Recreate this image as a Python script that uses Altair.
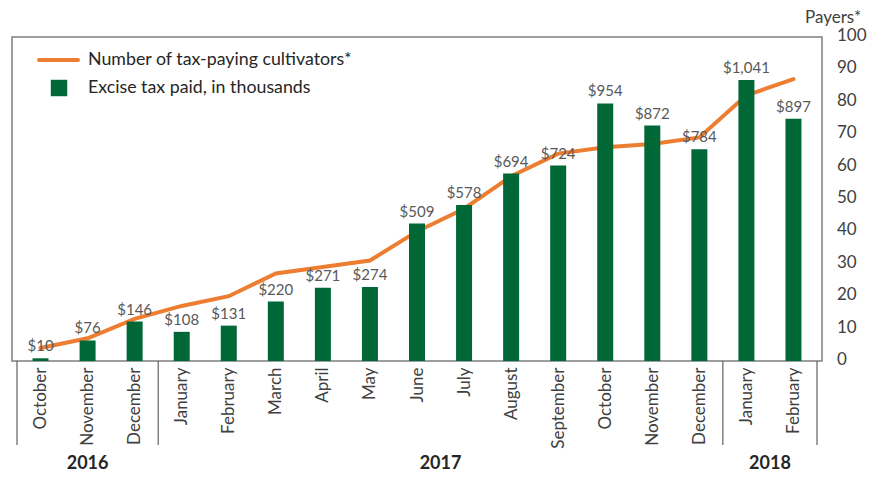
import json
import altair as alt
import pandas as pd

months = ["October", "November", "December", "January", "February", "March",
          "April", "May", "June", "July", "August", "September", "October",
          "November", "December", "January", "February"]
years = [2016, 2016, 2016, 2017, 2017, 2017, 2017, 2017, 2017, 2017, 2017,
         2017, 2017, 2017, 2017, 2018, 2018]
tax_paid = [10, 76, 146, 108, 131, 220, 271, 274, 509, 578, 694, 724, 954,
            872, 784, 1041, 897]
payers = [4, 7, 13, 17, 20, 27, 29, 31, 40, 47, 57, 64, 66, 67, 69, 82, 87]
payer_ticks = [0, 10, 20, 30, 40, 50, 60, 70, 80, 90, 100]
legend_line = "Number of tax-paying cultivators*"
legend_bar = "Excise tax paid, in thousands"
right_title = "Payers*"

W, H = 810, 324
FONT = "Lato"
ORANGE = "#ED7D31"
GREEN = "#006837"
AXIS_GRAY = "#404040"

n = len(months)
df = pd.DataFrame({
    "idx": list(range(n)),
    "month": months,
    "year": years,
    "tax": tax_paid,
    "payers": payers,
    "label": ["$" + f"{v:,}" for v in tax_paid],
})

# year groups: centers and boundaries
yr_rows = []
bounds = [-0.5]
for i, y in enumerate(years):
    if i > 0 and years[i - 1] != y:
        bounds.append(i - 0.5)
bounds.append(n - 0.5)
for y in sorted(set(years)):
    ids = [i for i, v in enumerate(years) if v == y]
    yr_rows.append({"year": str(y), "center": (ids[0] + ids[-1]) / 2})
yr_df = pd.DataFrame(yr_rows)
sep_df = pd.DataFrame({"pos": bounds})
tick_df = pd.DataFrame({"v": payer_ticks, "t": [str(v) for v in payer_ticks]})

xscale = alt.Scale(domain=[-0.5, n - 0.5], nice=False, zero=False)
pscale = alt.Scale(domain=[0, 100], nice=False)
label_expr = json.dumps(months) + "[datum.value]"

x_ax = alt.Axis(values=list(range(n)), labelExpr=label_expr, labelAngle=-90,
                labelAlign="right", labelBaseline="middle",
                ticks=False, grid=False, domain=False, title=None,
                labelFontSize=17, labelFont=FONT, labelColor=AXIS_GRAY,
                labelPadding=6, labelOverlap=False)


def xenc(field):
    return alt.X(field + ":Q", scale=xscale, axis=x_ax)


line = alt.Chart(df).mark_line(color=ORANGE, strokeWidth=4, strokeCap="round").encode(
    x=xenc("idx"),
    y=alt.Y("payers:Q", scale=pscale, axis=None),
)

bar_y = alt.Y("tax:Q", scale=alt.Scale(domain=[0, 1200], nice=False), axis=None)

bars = alt.Chart(df).mark_bar(width=16, color=GREEN).encode(x=xenc("idx"), y=bar_y)

bar_text = alt.Chart(df).mark_text(dy=-12, fontSize=15, font=FONT,
                                   color="#595959").encode(
    x=xenc("idx"), y=bar_y, text="label:N")

# right-hand payer axis labels
p_labels = alt.Chart(tick_df).mark_text(align="left", baseline="middle", dy=-1,
                                        fontSize=17, font=FONT,
                                        color=AXIS_GRAY).encode(
    x=alt.value(W + 15),
    y=alt.Y("v:Q", scale=pscale, axis=None), text="t:N")

title_df = pd.DataFrame({"t": [right_title]})
p_title = alt.Chart(title_df).mark_text(align="left", baseline="middle",
                                        fontSize=17, font=FONT,
                                        color=AXIS_GRAY).encode(
    x=alt.value(W - 17), y=alt.value(-19), text="t:N")

seps = alt.Chart(sep_df).mark_rule(color=AXIS_GRAY, strokeWidth=1).encode(
    x=xenc("pos"),
    y=alt.value(H), y2=alt.value(H + 84))

year_text = alt.Chart(yr_df).mark_text(fontSize=18, fontWeight="bold", font=FONT,
                                       color="#262626").encode(
    x=xenc("center"),
    y=alt.value(427), text="year:N")

leg_df = pd.DataFrame({"line": [legend_line], "bar": [legend_bar]})
leg_line = alt.Chart(leg_df).mark_rule(color=ORANGE, strokeWidth=4,
                                       strokeCap="round").encode(
    x=alt.value(27), x2=alt.value(66), y=alt.value(23))
leg_line_t = alt.Chart(leg_df).mark_text(align="left", baseline="middle",
                                         fontSize=17.8, font=FONT,
                                         color="#262626").encode(
    x=alt.value(76), y=alt.value(23), text="line:N")
leg_sq = alt.Chart(leg_df).mark_point(shape="square", filled=True, size=270,
                                      color=GREEN, opacity=1).encode(
    x=alt.value(47), y=alt.value(51))
leg_sq_t = alt.Chart(leg_df).mark_text(align="left", baseline="middle",
                                       fontSize=17.8, font=FONT,
                                       color="#262626").encode(
    x=alt.value(76), y=alt.value(51), text="bar:N")

chart = alt.layer(
    line, bars, bar_text, p_labels, p_title, seps, year_text,
    leg_line, leg_line_t, leg_sq, leg_sq_t
).resolve_scale(y="independent").properties(
    width=W, height=H,
    autosize=alt.AutoSizeParams(type="none"),
    padding={"left": 4, "top": 29, "right": 47, "bottom": 112},
).configure_view(stroke="#7f7f7f", strokeWidth=1.5)

chart.save("out.html", embed_options={"renderer": "svg", "actions": False})
